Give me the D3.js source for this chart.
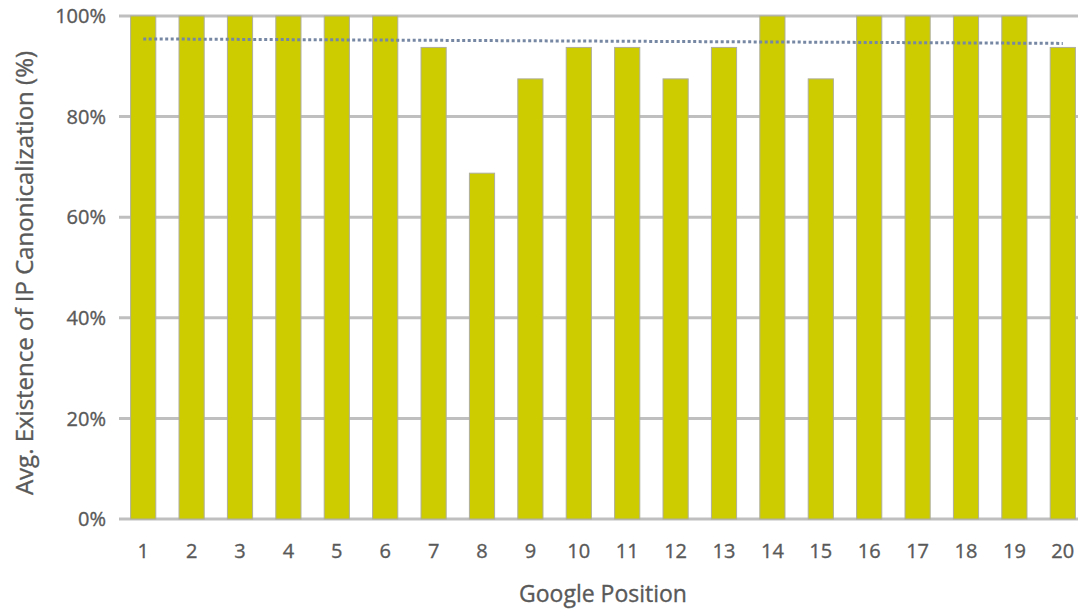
<!DOCTYPE html>
<html>
<head>
<meta charset="utf-8">
<script src="https://cdn.jsdelivr.net/npm/d3@7"></script>
<style>
  html, body { margin: 0; padding: 0; background: #fff; }
  svg { display: block; }
  text { font-family: "Open Sans", "DejaVu Sans", sans-serif; fill: #595959; stroke: #595959; stroke-width: 0.35px; }
</style>
</head>
<body>
<svg id="chart" width="1078" height="609"></svg>
<script>
// Google positions 1..20 and average share of pages with IP canonicalization
const positions = ["1","2","3","4","5","6","7","8","9","10","11","12","13","14","15","16","17","18","19","20"];
const values = [100, 100, 100, 100, 100, 100, 93.75, 68.75, 87.5, 93.75, 93.75, 87.5, 93.75, 100, 87.5, 100, 100, 100, 100, 93.75];
const yTicks = [0, 20, 40, 60, 80, 100];
const xTitle = "Google Position";
const yTitle = "Avg. Existence of IP Canonicalization (%)";

const svg = d3.select("#chart");
const W = 1078, H = 609;
const plot = { left: 119, right: 1087, top: 16, bottom: 519 };

const x = d3.scaleBand().domain(positions).range([plot.left, plot.right]).paddingInner(0.48).paddingOuter(0.24);
const y = d3.scaleLinear().domain([0, 100]).range([plot.bottom, plot.top]);

// horizontal gridlines
svg.append("g").selectAll("line").data(yTicks).join("line")
  .attr("x1", plot.left).attr("x2", W)
  .attr("y1", d => y(d)).attr("y2", d => y(d))
  .attr("stroke", "#bfbfbf").attr("stroke-width", 3);

// bars
svg.append("g").selectAll("rect").data(values).join("rect")
  .attr("x", (d, i) => x(positions[i]))
  .attr("width", x.bandwidth())
  .attr("y", d => y(d))
  .attr("height", d => y(0) - y(d))
  .attr("fill", "#cccc00")
  .attr("stroke", "#aeae9c").attr("stroke-width", 1);

// linear trendline (least squares over positions)
const n = values.length;
const xs = d3.range(1, n + 1);
const mx = d3.mean(xs), my = d3.mean(values);
const slope = d3.sum(xs, (v, i) => (v - mx) * (values[i] - my)) / d3.sum(xs, v => (v - mx) ** 2);
const icpt = my - slope * mx;
const trend = [1, n].map(p => [x(positions[p - 1]) + x.bandwidth() / 2, y(icpt + slope * p)]);
svg.append("path")
  .attr("d", d3.line()(trend))
  .attr("fill", "none")
  .attr("stroke", "#7587a3")
  .attr("stroke-width", 3)
  .attr("stroke-dasharray", "3,2.5");

// y tick labels
svg.append("g").selectAll("text").data(yTicks).join("text")
  .attr("x", 106).attr("y", d => y(d))
  .attr("dy", "0.36em")
  .attr("text-anchor", "end")
  .attr("font-size", 20)
  .text(d => d + "%");

// x tick labels
svg.append("g").selectAll("text").data(positions).join("text")
  .attr("x", d => x(d) + x.bandwidth() / 2)
  .attr("y", 551).attr("dy", "0.36em")
  .attr("text-anchor", "middle")
  .attr("font-size", 20)
  .text(d => d);

// axis titles
svg.append("text")
  .attr("x", 603).attr("y", 594).attr("dy", "0.36em")
  .attr("text-anchor", "middle").attr("font-size", 23)
  .text(xTitle);

svg.append("text")
  .attr("transform", "translate(24,273) rotate(-90)")
  .attr("dy", "0.36em")
  .attr("text-anchor", "middle").attr("font-size", 24)
  .text(yTitle);
</script>
</body>
</html>
